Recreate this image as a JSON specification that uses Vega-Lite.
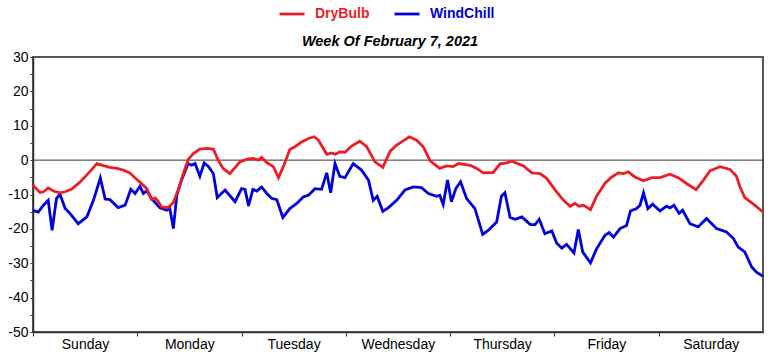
{
 "$schema": "https://vega.github.io/schema/vega-lite/v6.json",
 "width": 730, "height": 275,
 "autosize": {"type": "none"},
 "padding": {"left": 33, "top": 57, "right": 17, "bottom": 20},
 "background": "white",
 "config": {"font": "Liberation Sans", "view": {"stroke": "#555", "strokeWidth": 2}},
 "title": {"text": "Week Of February 7, 2021", "font": "Liberation Sans", "fontSize": 14.5, "fontWeight": "bold", "fontStyle": "italic", "color": "black", "anchor": "middle", "offset": 8, "dy": 57, "dx": -8},
 "datasets": {
  "t": [
   {"h":0,"s":"DryBulb","v":-7.3},{"h":1.6,"s":"DryBulb","v":-9.4},{"h":2.4,"s":"DryBulb","v":-9.2},{"h":3.5,"s":"DryBulb","v":-8.1},{"h":4.7,"s":"DryBulb","v":-9.0},{"h":6.2,"s":"DryBulb","v":-9.5},{"h":7.4,"s":"DryBulb","v":-9.2},{"h":8.9,"s":"DryBulb","v":-8.4},{"h":10.8,"s":"DryBulb","v":-6.4},{"h":12.4,"s":"DryBulb","v":-4.3},{"h":13.9,"s":"DryBulb","v":-2.2},{"h":14.7,"s":"DryBulb","v":-1.0},{"h":16.2,"s":"DryBulb","v":-1.6},{"h":17.7,"s":"DryBulb","v":-2.1},{"h":19.3,"s":"DryBulb","v":-2.4},{"h":20.8,"s":"DryBulb","v":-2.9},{"h":22.3,"s":"DryBulb","v":-3.7},{"h":23.5,"s":"DryBulb","v":-5.2},{"h":24.6,"s":"DryBulb","v":-6.4},{"h":26.2,"s":"DryBulb","v":-8.3},{"h":27.3,"s":"DryBulb","v":-11.5},{"h":28.1,"s":"DryBulb","v":-11.0},{"h":28.8,"s":"DryBulb","v":-12.0},{"h":29.6,"s":"DryBulb","v":-13.6},{"h":31.1,"s":"DryBulb","v":-13.8},{"h":32.3,"s":"DryBulb","v":-12.3},{"h":33.4,"s":"DryBulb","v":-8.7},{"h":34.6,"s":"DryBulb","v":-3.9},{"h":35.7,"s":"DryBulb","v":0.2},{"h":36.9,"s":"DryBulb","v":1.9},{"h":38.4,"s":"DryBulb","v":3.2},{"h":40.0,"s":"DryBulb","v":3.4},{"h":41.5,"s":"DryBulb","v":3.2},{"h":42.6,"s":"DryBulb","v":0},{"h":43.8,"s":"DryBulb","v":-2.5},{"h":45.3,"s":"DryBulb","v":-3.9},{"h":46.5,"s":"DryBulb","v":-2.2},{"h":47.6,"s":"DryBulb","v":-0.5},{"h":49.2,"s":"DryBulb","v":0.3},{"h":50.7,"s":"DryBulb","v":0.5},{"h":51.9,"s":"DryBulb","v":0},{"h":52.6,"s":"DryBulb","v":0.8},{"h":53.8,"s":"DryBulb","v":-0.7},{"h":55.3,"s":"DryBulb","v":-1.9},{"h":56.5,"s":"DryBulb","v":-5.1},{"h":57.6,"s":"DryBulb","v":-1.9},{"h":59.1,"s":"DryBulb","v":3.1},{"h":60.3,"s":"DryBulb","v":3.9},{"h":61.8,"s":"DryBulb","v":5.3},{"h":63.4,"s":"DryBulb","v":6.3},{"h":64.7,"s":"DryBulb","v":6.8},{"h":65.7,"s":"DryBulb","v":5.8},{"h":67.6,"s":"DryBulb","v":1.7},{"h":68.7,"s":"DryBulb","v":2.1},{"h":69.6,"s":"DryBulb","v":1.7},{"h":70.6,"s":"DryBulb","v":2.4},{"h":71.8,"s":"DryBulb","v":2.3},{"h":73.3,"s":"DryBulb","v":4.1},{"h":75.2,"s":"DryBulb","v":5.5},{"h":76.8,"s":"DryBulb","v":3.9},{"h":78.7,"s":"DryBulb","v":-0.5},{"h":80.5,"s":"DryBulb","v":-2.1},{"h":82.2,"s":"DryBulb","v":2.6},{"h":83.7,"s":"DryBulb","v":4.4},{"h":85.2,"s":"DryBulb","v":5.6},{"h":86.6,"s":"DryBulb","v":6.8},{"h":88.3,"s":"DryBulb","v":5.8},{"h":89.8,"s":"DryBulb","v":3.9},{"h":91.4,"s":"DryBulb","v":-0.2},{"h":93.6,"s":"DryBulb","v":-2.4},{"h":95.2,"s":"DryBulb","v":-1.7},{"h":96.7,"s":"DryBulb","v":-1.9},{"h":97.9,"s":"DryBulb","v":-1.0},{"h":100.6,"s":"DryBulb","v":-1.5},{"h":102.1,"s":"DryBulb","v":-2.4},{"h":103.6,"s":"DryBulb","v":-3.7},{"h":105.9,"s":"DryBulb","v":-3.6},{"h":107.5,"s":"DryBulb","v":-1.1},{"h":109.0,"s":"DryBulb","v":-0.8},{"h":110.2,"s":"DryBulb","v":-0.3},{"h":112.9,"s":"DryBulb","v":-1.7},{"h":114.8,"s":"DryBulb","v":-3.7},{"h":116.7,"s":"DryBulb","v":-3.9},{"h":118.2,"s":"DryBulb","v":-5.3},{"h":120.1,"s":"DryBulb","v":-8.6},{"h":122.1,"s":"DryBulb","v":-11.7},{"h":123.6,"s":"DryBulb","v":-13.4},{"h":124.7,"s":"DryBulb","v":-12.6},{"h":125.7,"s":"DryBulb","v":-13.4},{"h":126.7,"s":"DryBulb","v":-13.1},{"h":128.3,"s":"DryBulb","v":-14.4},{"h":129.7,"s":"DryBulb","v":-10.5},{"h":131.6,"s":"DryBulb","v":-6.8},{"h":133.2,"s":"DryBulb","v":-4.9},{"h":134.7,"s":"DryBulb","v":-3.7},{"h":135.9,"s":"DryBulb","v":-3.9},{"h":137.0,"s":"DryBulb","v":-3.4},{"h":138.5,"s":"DryBulb","v":-4.9},{"h":140.5,"s":"DryBulb","v":-6.0},{"h":142.4,"s":"DryBulb","v":-5.1},{"h":144.3,"s":"DryBulb","v":-5.1},{"h":146.6,"s":"DryBulb","v":-4.1},{"h":148.5,"s":"DryBulb","v":-5.1},{"h":150.4,"s":"DryBulb","v":-6.8},{"h":152.6,"s":"DryBulb","v":-8.6},{"h":154.3,"s":"DryBulb","v":-5.8},{"h":155.8,"s":"DryBulb","v":-3.1},{"h":158.1,"s":"DryBulb","v":-1.9},{"h":160.4,"s":"DryBulb","v":-2.7},{"h":161.9,"s":"DryBulb","v":-4.7},{"h":162.7,"s":"DryBulb","v":-7.8},{"h":163.8,"s":"DryBulb","v":-10.9},{"h":165.8,"s":"DryBulb","v":-12.8},{"h":168,"s":"DryBulb","v":-15.1},
   {"h":0,"s":"WindChill","v":-14.6},{"h":1.2,"s":"WindChill","v":-15.1},{"h":2.4,"s":"WindChill","v":-13.1},{"h":3.5,"s":"WindChill","v":-11.7},{"h":4.4,"s":"WindChill","v":-20.4},{"h":5.4,"s":"WindChill","v":-11.2},{"h":6.2,"s":"WindChill","v":-9.9},{"h":7.4,"s":"WindChill","v":-14.1},{"h":8.5,"s":"WindChill","v":-15.5},{"h":10.4,"s":"WindChill","v":-18.5},{"h":12.4,"s":"WindChill","v":-16.5},{"h":13.9,"s":"WindChill","v":-11.7},{"h":15.5,"s":"WindChill","v":-5.2},{"h":16.6,"s":"WindChill","v":-11.3},{"h":17.7,"s":"WindChill","v":-11.5},{"h":19.6,"s":"WindChill","v":-13.8},{"h":21.2,"s":"WindChill","v":-13.1},{"h":22.5,"s":"WindChill","v":-8.5},{"h":23.5,"s":"WindChill","v":-9.7},{"h":24.6,"s":"WindChill","v":-7.6},{"h":25.4,"s":"WindChill","v":-9.7},{"h":26.2,"s":"WindChill","v":-8.9},{"h":27.3,"s":"WindChill","v":-11.2},{"h":29.2,"s":"WindChill","v":-13.9},{"h":30.8,"s":"WindChill","v":-14.6},{"h":31.5,"s":"WindChill","v":-14.1},{"h":32.3,"s":"WindChill","v":-19.9},{"h":33.1,"s":"WindChill","v":-10.2},{"h":34.2,"s":"WindChill","v":-5.8},{"h":35.7,"s":"WindChill","v":-1.0},{"h":36.5,"s":"WindChill","v":-1.5},{"h":37.3,"s":"WindChill","v":-1.0},{"h":38.4,"s":"WindChill","v":-4.7},{"h":39.4,"s":"WindChill","v":-0.8},{"h":40.4,"s":"WindChill","v":-1.9},{"h":41.5,"s":"WindChill","v":-3.9},{"h":42.4,"s":"WindChill","v":-10.9},{"h":44.2,"s":"WindChill","v":-8.7},{"h":46.5,"s":"WindChill","v":-12.1},{"h":48.0,"s":"WindChill","v":-8.3},{"h":48.8,"s":"WindChill","v":-8.5},{"h":49.6,"s":"WindChill","v":-13.3},{"h":50.6,"s":"WindChill","v":-8.5},{"h":51.5,"s":"WindChill","v":-9.0},{"h":52.6,"s":"WindChill","v":-7.8},{"h":53.8,"s":"WindChill","v":-9.7},{"h":54.9,"s":"WindChill","v":-11.1},{"h":56.1,"s":"WindChill","v":-11.5},{"h":57.5,"s":"WindChill","v":-16.7},{"h":59.1,"s":"WindChill","v":-14.1},{"h":60.7,"s":"WindChill","v":-12.6},{"h":62.2,"s":"WindChill","v":-10.7},{"h":63.4,"s":"WindChill","v":-10.2},{"h":64.9,"s":"WindChill","v":-8.3},{"h":66.4,"s":"WindChill","v":-8.5},{"h":67.6,"s":"WindChill","v":-3.7},{"h":68.5,"s":"WindChill","v":-9.5},{"h":69.5,"s":"WindChill","v":-1.0},{"h":70.6,"s":"WindChill","v":-4.7},{"h":71.8,"s":"WindChill","v":-5.1},{"h":73.7,"s":"WindChill","v":-1.0},{"h":75.6,"s":"WindChill","v":-2.9},{"h":77.2,"s":"WindChill","v":-5.8},{"h":78.3,"s":"WindChill","v":-11.7},{"h":79.2,"s":"WindChill","v":-10.5},{"h":80.5,"s":"WindChill","v":-14.9},{"h":81.8,"s":"WindChill","v":-13.8},{"h":83.7,"s":"WindChill","v":-11.7},{"h":85.6,"s":"WindChill","v":-8.7},{"h":87.5,"s":"WindChill","v":-7.8},{"h":89.4,"s":"WindChill","v":-8.0},{"h":91.0,"s":"WindChill","v":-9.7},{"h":92.9,"s":"WindChill","v":-10.5},{"h":93.6,"s":"WindChill","v":-10.2},{"h":94.4,"s":"WindChill","v":-12.9},{"h":95.4,"s":"WindChill","v":-5.8},{"h":96.3,"s":"WindChill","v":-12.1},{"h":97.3,"s":"WindChill","v":-8.3},{"h":98.4,"s":"WindChill","v":-6.3},{"h":99.8,"s":"WindChill","v":-11.2},{"h":101.7,"s":"WindChill","v":-14.1},{"h":103.5,"s":"WindChill","v":-21.6},{"h":104.8,"s":"WindChill","v":-20.4},{"h":106.7,"s":"WindChill","v":-18.0},{"h":107.8,"s":"WindChill","v":-10.5},{"h":108.6,"s":"WindChill","v":-9.5},{"h":109.8,"s":"WindChill","v":-16.7},{"h":111.0,"s":"WindChill","v":-17.2},{"h":112.5,"s":"WindChill","v":-16.5},{"h":114.4,"s":"WindChill","v":-18.7},{"h":115.5,"s":"WindChill","v":-18.8},{"h":116.5,"s":"WindChill","v":-17.2},{"h":117.8,"s":"WindChill","v":-21.4},{"h":119.4,"s":"WindChill","v":-20.6},{"h":120.5,"s":"WindChill","v":-24.1},{"h":121.7,"s":"WindChill","v":-25.6},{"h":122.8,"s":"WindChill","v":-24.5},{"h":124.5,"s":"WindChill","v":-27.0},{"h":125.5,"s":"WindChill","v":-20.2},{"h":126.5,"s":"WindChill","v":-26.7},{"h":128.3,"s":"WindChill","v":-29.9},{"h":129.7,"s":"WindChill","v":-25.8},{"h":131.6,"s":"WindChill","v":-21.9},{"h":132.6,"s":"WindChill","v":-21.1},{"h":133.6,"s":"WindChill","v":-22.4},{"h":135.1,"s":"WindChill","v":-19.9},{"h":136.6,"s":"WindChill","v":-19.0},{"h":137.5,"s":"WindChill","v":-14.8},{"h":138.9,"s":"WindChill","v":-14.1},{"h":139.7,"s":"WindChill","v":-13.1},{"h":140.5,"s":"WindChill","v":-9.5},{"h":141.5,"s":"WindChill","v":-14.1},{"h":142.6,"s":"WindChill","v":-12.8},{"h":144.3,"s":"WindChill","v":-14.8},{"h":145.8,"s":"WindChill","v":-13.4},{"h":146.6,"s":"WindChill","v":-13.9},{"h":147.5,"s":"WindChill","v":-13.1},{"h":148.7,"s":"WindChill","v":-15.5},{"h":149.5,"s":"WindChill","v":-14.6},{"h":151.2,"s":"WindChill","v":-18.5},{"h":153.1,"s":"WindChill","v":-19.4},{"h":155.0,"s":"WindChill","v":-17.0},{"h":157.3,"s":"WindChill","v":-19.9},{"h":159.6,"s":"WindChill","v":-20.9},{"h":161.2,"s":"WindChill","v":-22.8},{"h":162.3,"s":"WindChill","v":-25.3},{"h":163.8,"s":"WindChill","v":-26.7},{"h":165.4,"s":"WindChill","v":-31.1},{"h":166.5,"s":"WindChill","v":-32.6},{"h":168,"s":"WindChill","v":-33.8}
  ]
 },
 "layer": [
  {
   "data": {"values": [{"z": 0}]},
   "mark": {"type": "rule", "color": "#333", "strokeWidth": 1},
   "encoding": {
    "y": {"field": "z", "type": "quantitative", "scale": {"domain": [-50, 30], "nice": false, "zero": false},
      "axis": {"values": [-50,-45,-40,-35,-30,-25,-20,-15,-10,-5,0,5,10,15,20,25,30], "labelExpr": "datum.value % 10 == 0 ? '' + datum.value : ''", "tickSize": 3, "labelPadding": 2, "labelFontSize": 14, "labelColor": "black", "tickColor": "#333", "domainColor": "#333", "domainWidth": 1.5, "grid": false, "title": null, "labelFlush": false, "labelBound": false}}
   }
  },
  {
   "data": {"name": "t"},
   "transform": [{"filter": "datum.s == 'WindChill'"}],
   "mark": {"type": "line", "strokeWidth": 2.8},
   "encoding": {
    "x": {"field": "h", "type": "quantitative", "scale": {"domain": [0, 168], "nice": false, "zero": false},
      "axis": {"values": [0,24,48,72,96,120,144], "labelExpr": "['Sunday','Monday','Tuesday','Wednesday','Thursday','Friday','Saturday'][round(datum.value/24)]", "labelOffset": 52, "tickSize": 4, "labelPadding": 1, "labelFontSize": 14, "labelColor": "black", "tickColor": "#333", "domainColor": "#333", "domainWidth": 1.5, "grid": false, "title": null, "labelAngle": 0, "labelFlush": false, "labelBound": false, "labelOverlap": false}},
    "y": {"field": "v", "type": "quantitative", "scale": {"domain": [-50, 30], "nice": false, "zero": false},
      "axis": {"values": [-50,-45,-40,-35,-30,-25,-20,-15,-10,-5,0,5,10,15,20,25,30], "labelExpr": "datum.value % 10 == 0 ? '' + datum.value : ''", "tickSize": 3, "labelPadding": 2, "labelFontSize": 14, "labelColor": "black", "tickColor": "#333", "domainColor": "#333", "domainWidth": 1.5, "grid": false, "title": null, "labelFlush": false, "labelBound": false}},
    "color": {"field": "s", "type": "nominal", "scale": {"domain": ["DryBulb", "WindChill"], "range": ["#ee1c25", "#0000dd"]},
      "legend": {"orient": "none", "legendX": 245, "legendY": -57, "direction": "horizontal", "title": null, "symbolType": "stroke", "symbolStrokeWidth": 2.8, "symbolSize": 625, "labelFontSize": 14, "labelFontWeight": "bold", "labelFont": "Liberation Sans", "labelColor": {"expr": "datum.value == 'DryBulb' ? '#ee1c25' : '#0000dd'"}, "columnPadding": 18, "labelOffset": 9}}
   }
  },
  {
   "data": {"name": "t"},
   "transform": [{"filter": "datum.s == 'DryBulb'"}],
   "mark": {"type": "line", "strokeWidth": 2.8},
   "encoding": {
    "x": {"field": "h", "type": "quantitative", "scale": {"domain": [0, 168], "nice": false, "zero": false},
      "axis": {"values": [0,24,48,72,96,120,144], "labelExpr": "['Sunday','Monday','Tuesday','Wednesday','Thursday','Friday','Saturday'][round(datum.value/24)]", "labelOffset": 52, "tickSize": 4, "labelPadding": 1, "labelFontSize": 14, "labelColor": "black", "tickColor": "#333", "domainColor": "#333", "domainWidth": 1.5, "grid": false, "title": null, "labelAngle": 0, "labelFlush": false, "labelBound": false, "labelOverlap": false}},
    "y": {"field": "v", "type": "quantitative", "scale": {"domain": [-50, 30], "nice": false, "zero": false},
      "axis": {"values": [-50,-45,-40,-35,-30,-25,-20,-15,-10,-5,0,5,10,15,20,25,30], "labelExpr": "datum.value % 10 == 0 ? '' + datum.value : ''", "tickSize": 3, "labelPadding": 2, "labelFontSize": 14, "labelColor": "black", "tickColor": "#333", "domainColor": "#333", "domainWidth": 1.5, "grid": false, "title": null, "labelFlush": false, "labelBound": false}},
    "color": {"field": "s", "type": "nominal", "scale": {"domain": ["DryBulb", "WindChill"], "range": ["#ee1c25", "#0000dd"]},
      "legend": {"orient": "none", "legendX": 245, "legendY": -57, "direction": "horizontal", "title": null, "symbolType": "stroke", "symbolStrokeWidth": 2.8, "symbolSize": 625, "labelFontSize": 14, "labelFontWeight": "bold", "labelFont": "Liberation Sans", "labelColor": {"expr": "datum.value == 'DryBulb' ? '#ee1c25' : '#0000dd'"}, "columnPadding": 18, "labelOffset": 9}}
   }
  }
 ]
}
